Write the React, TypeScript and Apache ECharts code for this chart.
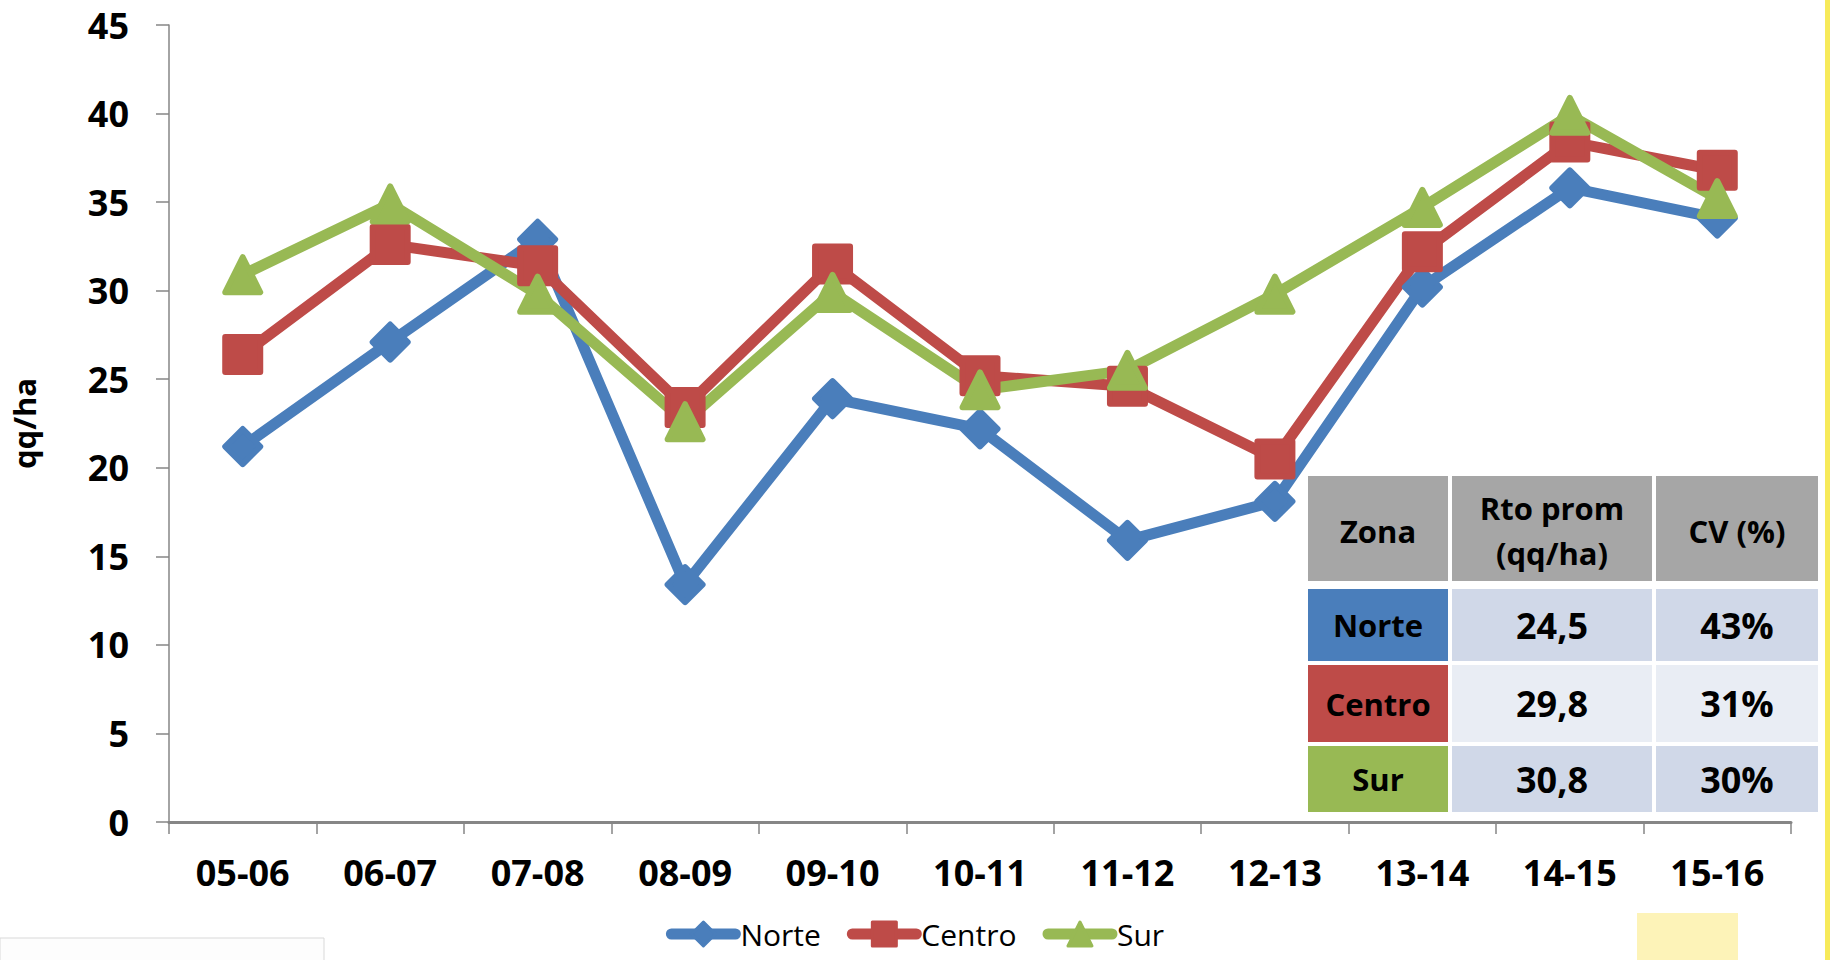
import React, { useEffect, useRef } from "react";
import * as echarts from "echarts";

const categories = ["05-06", "06-07", "07-08", "08-09", "09-10", "10-11", "11-12", "12-13", "13-14", "14-15", "15-16"];
const norte = [21.2, 27.1, 32.9, 13.4, 23.9, 22.2, 15.9, 18.1, 30.2, 35.8, 34.1];
const centro = [26.4, 32.6, 31.4, 23.4, 31.5, 25.2, 24.6, 20.5, 32.2, 38.4, 36.8];
const sur = [30.9, 34.9, 29.8, 22.6, 29.9, 24.4, 25.5, 29.8, 34.7, 39.9, 35.2];
const yTicks = [0, 45, 5];
const tableHeader = ["Zona", "Rto prom\n(qq/ha)", "CV (%)"];
const tableZones = ["Norte", "Centro", "Sur"];
const tableMeans = ["24,5", "29,8", "30,8"];
const tableCV = ["43%", "31%", "30%"];

const BLUE = "#4a7ebb";
const RED = "#be4b48";
const GREEN = "#98b954";
const FONT = "'Open Sans', 'Noto Sans', sans-serif";

export default function App() {
  const ref = useRef<HTMLDivElement>(null);
  useEffect(() => {
    document.body.style.margin = "0";
    const chart = echarts.init(ref.current!, undefined, { renderer: "svg" });

    const colX = [[1308, 1448], [1452, 1652], [1656, 1818]];
    const rowY = [[476, 581], [589, 661], [665, 742], [746, 812]];
    const zoneColors = [BLUE, RED, GREEN];
    const cellFill = ["#d0d8e8", "#e9edf4", "#d0d8e8"];

    const graphics: any[] = [];
    tableHeader.forEach((h, c) => {
      graphics.push({
        type: "rect", z: 100,
        shape: { x: colX[c][0], y: rowY[0][0], width: colX[c][1] - colX[c][0], height: rowY[0][1] - rowY[0][0] },
        style: { fill: "#a6a6a6" },
      });
      graphics.push({
        type: "text", z: 101,
        x: (colX[c][0] + colX[c][1]) / 2, y: (rowY[0][0] + rowY[0][1]) / 2 + 2,
        style: { text: h, fontSize: 31, fontWeight: "bold", fontFamily: FONT, fill: "#000", align: "center", verticalAlign: "middle", lineHeight: 45 },
      });
    });
    for (let r = 0; r < 3; r++) {
      const y0 = rowY[r + 1][0], y1 = rowY[r + 1][1];
      const cells = [tableZones[r], tableMeans[r], tableCV[r]];
      for (let c = 0; c < 3; c++) {
        graphics.push({
          type: "rect", z: 100,
          shape: { x: colX[c][0], y: y0, width: colX[c][1] - colX[c][0], height: y1 - y0 },
          style: { fill: c === 0 ? zoneColors[r] : cellFill[r] },
        });
        graphics.push({
          type: "text", z: 101,
          x: (colX[c][0] + colX[c][1]) / 2, y: (y0 + y1) / 2,
          style: { text: cells[c], fontSize: c === 0 ? 31 : 36, fontWeight: "bold", fontFamily: FONT, fill: "#000", align: "center", verticalAlign: "middle" },
        });
      }
    }
    graphics.push({ type: "rect", z: 1, shape: { x: 1825, y: 0, width: 5, height: 960 }, style: { fill: "#f7ea5a" } });
    graphics.push({ type: "rect", z: 1, shape: { x: 1637, y: 913, width: 101, height: 47 }, style: { fill: "#fdf3b8" } });
    graphics.push({ type: "rect", z: 1, shape: { x: 0, y: 938, width: 324, height: 30 }, style: { fill: "#fdfdfd", stroke: "#d9d9d9", lineWidth: 1 } });

    const mkSeries = (name: string, data: number[], color: string, symbol: string) => ({
      name, type: "line", data, symbol, symbolSize: 35,
      lineStyle: { color, width: 11, join: "round" },
      itemStyle: { color, borderColor: color, borderWidth: 6, borderJoin: "round" },
      emphasis: { disabled: true },
    });

    chart.setOption({
      animation: false,
      backgroundColor: "#ffffff",
      grid: { left: 168, right: 39, top: 25, bottom: 138, containLabel: false },
      legend: {
        top: 914, left: "center",
        itemWidth: 64, itemHeight: 30, itemGap: 26,
        lineStyle: { width: 11, cap: "round" },
        itemStyle: { borderWidth: 3, borderJoin: "round" },
        textStyle: { fontSize: 30, lineHeight: 30, fontFamily: FONT, color: "#000" },
        data: ["Norte", "Centro", "Sur"],
      },
      xAxis: {
        type: "category", data: categories, boundaryGap: true,
        axisLine: { lineStyle: { color: "#868686", width: 3 } },
        axisTick: { show: true, length: 12, interval: 0, lineStyle: { color: "#868686", width: 1.5 } },
        axisLabel: { fontSize: 36, fontWeight: "bold", fontFamily: FONT, color: "#000", margin: 32, interval: 0 },
        splitLine: { show: false },
      },
      yAxis: {
        type: "value", min: yTicks[0], max: yTicks[1], interval: yTicks[2],
        name: "qq/ha", nameLocation: "middle", nameRotate: 90, nameGap: 130,
        nameTextStyle: { fontSize: 31, fontWeight: "bold", fontFamily: FONT, color: "#000" },
        axisLine: { show: true, lineStyle: { color: "#868686", width: 1.5 } },
        axisTick: { show: true, length: 13, lineStyle: { color: "#868686", width: 1.5 } },
        axisLabel: { fontSize: 36, fontWeight: "bold", fontFamily: FONT, color: "#000", margin: 40 },
        splitLine: { show: false },
      },
      series: [
        mkSeries("Norte", norte, BLUE, "diamond"),
        mkSeries("Centro", centro, RED, "rect"),
        mkSeries("Sur", sur, GREEN, "triangle"),
      ],
      graphic: graphics,
    });
    return () => chart.dispose();
  }, []);
  return <div ref={ref} style={{ position: "absolute", left: 0, top: 0, width: 1830, height: 960 }} />;
}
